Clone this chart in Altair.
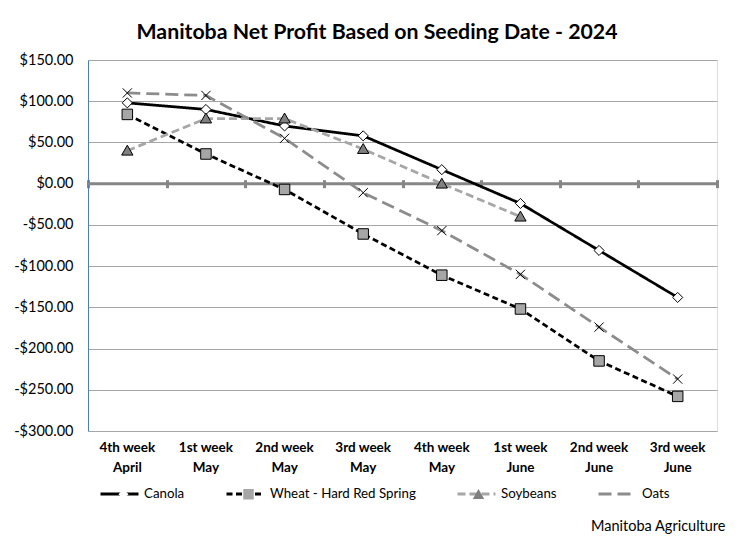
import altair as alt
import pandas as pd

weeks = ["4th week|April", "1st week|May", "2nd week|May", "3rd week|May",
         "4th week|May", "1st week|June", "2nd week|June", "3rd week|June"]
series_names = ["Canola", "Wheat - Hard Red Spring", "Soybeans", "Oats"]
canola = [98, 90, 70, 58, 17, -24, -81, -138]
wheat = [84, 36, -7, -61, -111, -152, -215, -258]
soybeans = [40, 79, 79, 42, 0, -40, None, None]
oats = [110, 107, 55, -11, -57, -110, -174, -237]
y_ticks = [150, 100, 50, 0, -50, -100, -150, -200, -250, -300]

line_colors = ["#000000", "#000000", "#a6a6a6", "#8c8c8c"]
line_dashes = [[1, 0], [6, 3.5], [8, 4], [13, 6]]
# zero-length end segments give both legends' symbols the same bounding box
SPAN = "M-1,0L-1,0M1,0L1,0"
legend_line = SPAN + "M-0.95,0H0.95"
point_shapes = [
    SPAN + "M0,-0.24L0.24,0L0,0.24L-0.24,0Z",
    SPAN + "M-0.25,-0.25H0.25V0.25H-0.25Z",
    SPAN + "M0,-0.26L0.27,0.21H-0.27Z",
    SPAN + "M-0.22,-0.22L0.22,0.22M-0.22,0.22L0.22,-0.22",
]
point_fills = ["#ffffff", "#a6a6a6", "#808080", "transparent"]

rows = []
for name, vals in zip(series_names, [canola, wheat, soybeans, oats]):
    for w, v in zip(weeks, vals):
        if v is not None:
            rows.append({"week": w, "series": name, "pseries": "p_" + name, "value": v})
df = pd.DataFrame(rows)
pnames = ["p_" + n for n in series_names]

FONT = "Lato"

x_scale = alt.Scale(type="band", domain=weeks, paddingInner=0, paddingOuter=0)
y_scale = alt.Scale(domain=[-300, 150], nice=False, zero=False)

y_enc = alt.Y(
    "value:Q", scale=y_scale,
    axis=alt.Axis(
        values=y_ticks, title=None, grid=True, gridColor="#a6a6a6", gridWidth=1,
        domain=True, domainColor="#4a7ebb", domainWidth=1, ticks=False,
        labelFont=FONT, labelFontSize=14.5, labelColor="#000000", labelPadding=15,
        labelExpr="(datum.value < 0 ? '-' : '') + '$' + format(abs(datum.value), '.2f')",
    ),
)

x_bottom = alt.X(
    "week:N", scale=x_scale,
    axis=alt.Axis(
        orient="bottom", domain=False, ticks=False, grid=False, labelAngle=0,
        labelFont=FONT, labelFontSize=13.5, labelFontWeight="bold", labelColor="#000000",
        labelExpr="split(datum.label, '|')", labelLineHeight=20, labelPadding=9,
        labelLimit=200,
        title="Manitoba Agriculture", titleX=637, titleY=99, titleAlign="right",
        titleBaseline="alphabetic", titleFont=FONT, titleFontSize=14.5,
        titleFontWeight="normal", titleColor="#000000",
    ),
)

x_top = alt.X(
    "week:N", scale=x_scale,
    axis=alt.Axis(
        orient="top", offset=-127.67, labels=False, domain=False, grid=False,
        ticks=True, tickBand="extent", tickSize=8, tickWidth=3, tickColor="#868686",
        title=None,
    ),
)

line_legend = alt.Legend(
    orient="none", legendX=10, legendY=412.5, direction="horizontal", title=None,
    symbolType=legend_line, symbolSize=1600, symbolStrokeWidth=3,
    labelOffset=3, columnPadding=34, labelFont=FONT, labelFontSize=13.3,
    labelColor="#000000",
)

point_legend = alt.Legend(
    orient="none", legendX=10, legendY=412.5, direction="horizontal", title=None,
    symbolSize=1764, symbolStrokeColor="#000000", symbolStrokeWidth=1, symbolOffset=4,
    labelOffset=3, columnPadding=34, labelFont=FONT, labelColor="#000000",
    labelFontSize=13.3, labelOpacity=0, labelExpr="slice(datum.label, 2)",
)

base = alt.Chart(df)

zero_rule = alt.Chart(pd.DataFrame({"z": [0]})).mark_rule(
    color="#868686", strokeWidth=3
).encode(y=alt.Y("z:Q", scale=y_scale))

lines = base.mark_line(strokeWidth=2.75).encode(
    x=x_bottom,
    y=y_enc,
    color=alt.Color("series:N", scale=alt.Scale(domain=series_names, range=line_colors),
                    legend=line_legend),
    strokeDash=alt.StrokeDash("series:N", scale=alt.Scale(domain=series_names, range=line_dashes),
                              legend=line_legend),
    detail="series:N",
)

points = base.mark_point(filled=False, size=1764, stroke="#000000", strokeWidth=1, opacity=1).encode(
    x=x_top,
    y=alt.Y("value:Q", scale=y_scale),
    shape=alt.Shape("pseries:N", scale=alt.Scale(domain=pnames, range=point_shapes),
                    legend=point_legend),
    fill=alt.Fill("pseries:N", scale=alt.Scale(domain=pnames, range=point_fills),
                  legend=point_legend),
)

chart = alt.layer(zero_rule, lines, points).properties(
    width=629, height=371,
    title=alt.TitleParams(
        "Manitoba Net Profit Based on Seeding Date - 2024",
        font=FONT, fontSize=21.3, fontWeight="bold", color="#000000",
        anchor="middle", dx=-25.5, dy=30, offset=22, baseline="alphabetic",
    ),
    autosize=alt.AutoSizeParams(type="none"),
    padding={"left": 80, "top": 52, "right": 24, "bottom": 103},
).configure_view(
    fill="#f2f2f2", stroke=None
).configure(background="#ffffff")

chart.save("out.html", embed_options={"renderer": "svg", "actions": False})
